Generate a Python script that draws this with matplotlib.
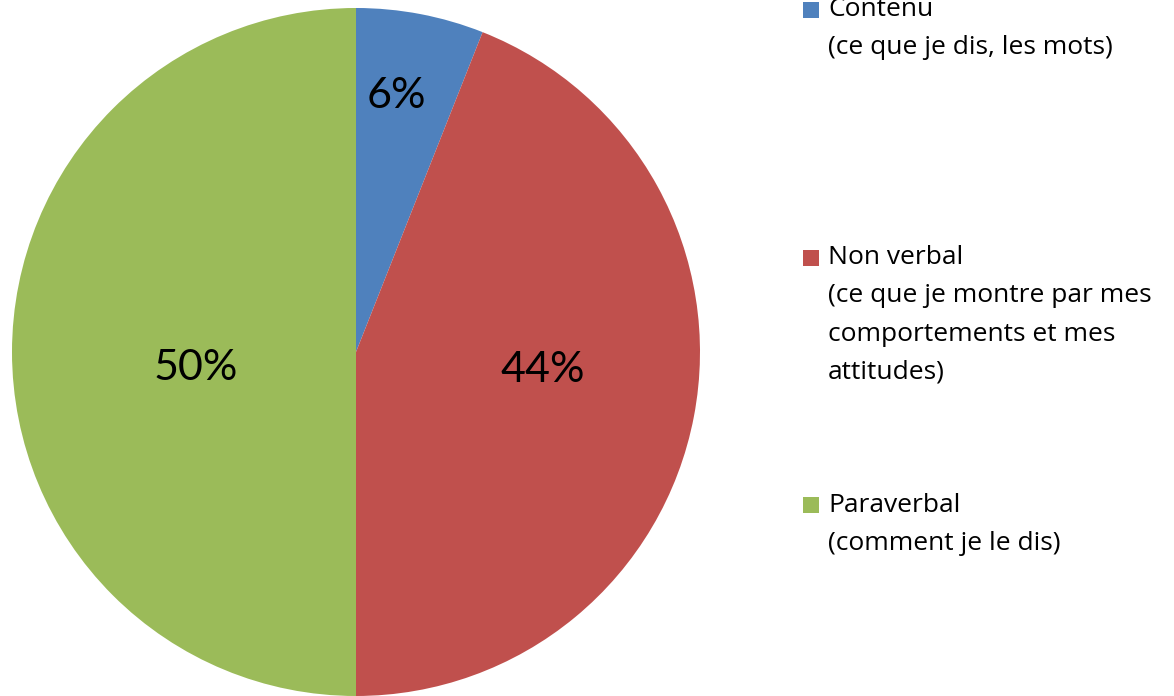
import matplotlib
matplotlib.use("Agg")
import matplotlib.pyplot as plt
from matplotlib.patches import Rectangle

categories = ["Contenu", "Non verbal", "Paraverbal"]
descriptions = ["(ce que je dis, les mots)",
                "(ce que je montre par mes\ncomportements et mes\nattitudes)",
                "(comment je le dis)"]
values = [6, 44, 50]
colors = ["#4F81BD", "#C0504D", "#9BBB59"]

PCT_FONT = ["Lato", "DejaVu Sans"]
LEG_FONT = ["Open Sans", "DejaVu Sans"]
W, H = 1174, 696
fig = plt.figure(figsize=(W / 100, H / 100), dpi=100)
fig.patch.set_facecolor("white")

# pie axes in pixel coordinates
R = 344
cx, cy = 356, 352
ax = fig.add_axes([(cx - R) / W, (H - cy - R) / H, 2 * R / W, 2 * R / H])
wedges, texts, autotexts = ax.pie(values, colors=colors, startangle=90, counterclock=False,
                                  autopct="%1.0f%%", pctdistance=0.6,
                                  wedgeprops=dict(linewidth=0),
                                  textprops=dict(fontsize=31, family=PCT_FONT, color="black"))
ax.set_xlim(-1, 1)
ax.set_ylim(-1, 1)
ax.set_aspect("equal")
ax.axis("off")

# label placements (Excel "best fit"-like)
label_pos = [(0.118, 0.745), (0.544, -0.052), (-0.465, -0.047)]
for t, p in zip(autotexts, label_pos):
    t.set_position(p)
    t.set_ha("center")
    t.set_va("center")

# legend drawn manually (square aligned with first line)
line_h = 38
first_line_y = [10, 258, 505]
for cat, desc, col, y0 in zip(categories, descriptions, colors, first_line_y):
    fig.add_artist(Rectangle((803 / W, (H - y0 - 8) / H), 16 / W, 16 / H,
                             transform=fig.transFigure, facecolor=col, edgecolor="none"))
    lines = [cat] + desc.split("\n")
    for i, ln in enumerate(lines):
        fig.text(828 / W, (H - (y0 + i * line_h)) / H, ln, fontsize=19, family=LEG_FONT,
                 ha="left", va="center", color="black")

fig.savefig("out.png", dpi=100, facecolor="white")
